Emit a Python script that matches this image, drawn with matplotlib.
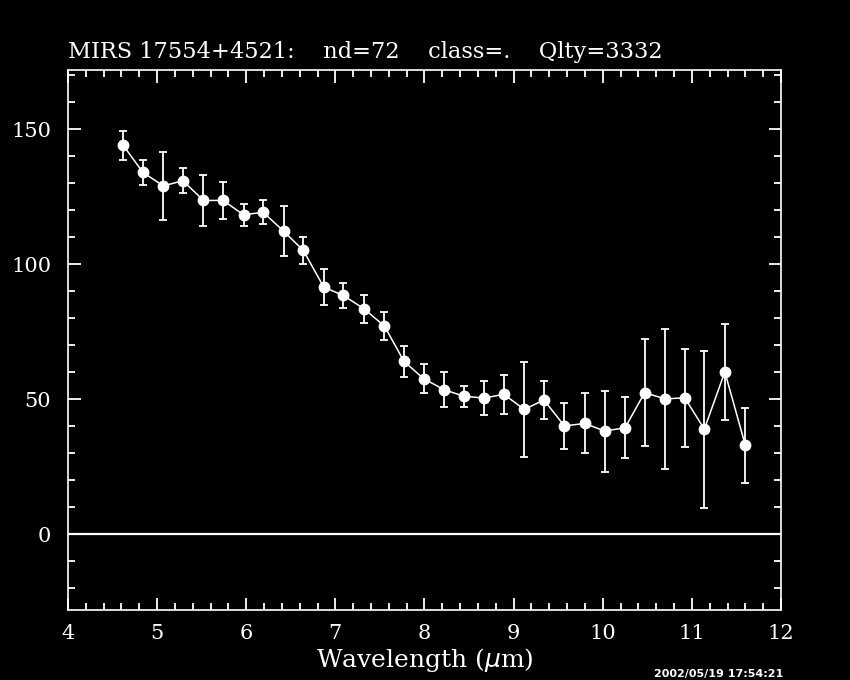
import numpy as np
import matplotlib
matplotlib.use("Agg")
import matplotlib.pyplot as plt
from matplotlib.ticker import MultipleLocator

# ==============================================================================
# Datos del espectro
# ==============================================================================
wavelength = [4.62, 4.84, 5.07, 5.29, 5.52, 5.74, 5.97, 6.19, 6.42, 6.64,
              6.87, 7.09, 7.32, 7.55, 7.77, 7.99, 8.22, 8.44, 8.67, 8.89,
              9.12, 9.34, 9.57, 9.80, 10.02, 10.25, 10.47, 10.70, 10.92, 11.14,
              11.37, 11.60]
flux = [144.1, 134.1, 129.1, 131.0, 123.7, 123.7, 118.4, 119.3, 112.3, 105.2,
        91.6, 88.5, 83.6, 77.2, 64.1, 57.7, 53.6, 51.2, 50.5, 51.9,
        46.3, 49.8, 40.2, 41.1, 38.3, 39.5, 52.5, 50.2, 50.6, 39.0,
        60.2, 33.0]
flux_err = [5.4, 4.6, 12.5, 4.7, 9.5, 6.7, 4.1, 4.4, 9.3, 5.0,
            6.8, 4.6, 5.2, 5.3, 5.7, 5.5, 6.4, 3.9, 6.4, 7.2,
            17.5, 6.9, 8.4, 11.1, 15.0, 11.3, 19.9, 26.0, 18.2, 29.1,
            17.9, 13.9]

title_text = "MIRS 17554+4521:    nd=72    class=.    Qlty=3332"
stamp_text = "2002/05/19 17:54:21"

# ==============================================================================
# Figura
# ==============================================================================
fig = plt.figure(figsize=(8.5, 6.8), dpi=100, facecolor="black")
ax = fig.add_axes([0.08, 0.1029, 0.8388, 0.7941], facecolor="black")

ax.axhline(0, color="white", lw=1.6, zorder=1)
ax.errorbar(wavelength, flux, yerr=flux_err, fmt="-o", color="white",
            ecolor="white", elinewidth=1.3, capsize=3, capthick=1.3,
            lw=1.1, markersize=7.5, zorder=3)

ax.set_xlim(4, 12)
ax.set_ylim(-28, 172)
ax.xaxis.set_major_locator(MultipleLocator(1))
ax.xaxis.set_minor_locator(MultipleLocator(0.2))
ax.yaxis.set_major_locator(MultipleLocator(50))
ax.yaxis.set_minor_locator(MultipleLocator(10))

for s in ax.spines.values():
    s.set_color("white")
    s.set_linewidth(1.2)

ax.tick_params(which="both", direction="in", top=True, right=True,
               colors="white", width=1.3)
ax.tick_params(which="major", length=9)
ax.tick_params(which="minor", length=5)
ax.tick_params(axis="x", which="major", pad=10, labelsize=15)
ax.tick_params(axis="y", which="major", pad=12, labelsize=15)
for lab in ax.get_xticklabels() + ax.get_yticklabels():
    lab.set_family("DejaVu Serif")

ax.set_xlabel(r"Wavelength ($\mu$m)", color="white", fontsize=18,
              family="DejaVu Serif", labelpad=2)

fig.text(0.08, 0.915, title_text, color="white", fontsize=16.2,
         family="DejaVu Serif", ha="left", va="baseline")
fig.text(0.77, 0.002, stamp_text, color="white", fontsize=8,
         family="DejaVu Sans", weight="bold", ha="left", va="bottom")

fig.savefig("out.png", dpi=100, facecolor="black")
